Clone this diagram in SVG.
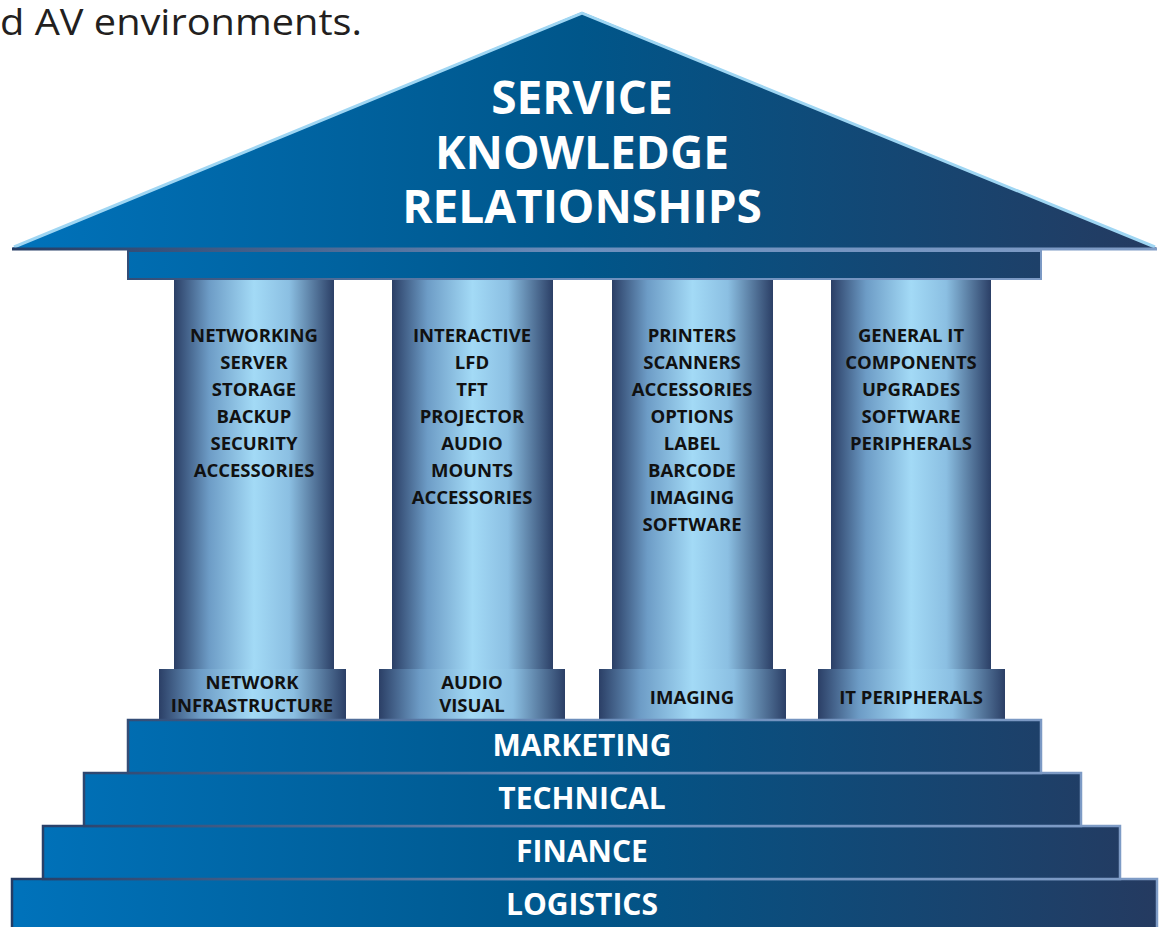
<svg xmlns="http://www.w3.org/2000/svg" width="1162" height="927" viewBox="0 0 1162 927">
<defs>
<linearGradient id="blue" gradientUnits="userSpaceOnUse" x1="0" y1="0" x2="1162" y2="0">
<stop offset="0" stop-color="#0073bc"/>
<stop offset="0.5" stop-color="#00568a"/>
<stop offset="1" stop-color="#253a60"/>
</linearGradient>
<linearGradient id="edge" gradientUnits="userSpaceOnUse" x1="0" y1="0" x2="1162" y2="0">
<stop offset="0" stop-color="#233a62"/>
<stop offset="0.5" stop-color="#6d8fbd"/>
<stop offset="1" stop-color="#7f9cc6"/>
</linearGradient>
<linearGradient id="col" x1="0" y1="0" x2="1" y2="0">
<stop offset="0" stop-color="#2b3f66"/>
<stop offset="0.22" stop-color="#6d9cc6"/>
<stop offset="0.5" stop-color="#a3daf6"/>
<stop offset="0.72" stop-color="#8bbfe2"/>
<stop offset="1" stop-color="#2b3f66"/>
</linearGradient>
</defs>
<style>
.step{fill:url(#blue);stroke:url(#edge);stroke-width:2.5}
.lbl{font-family:"Open Sans","Liberation Sans",sans-serif;font-weight:bold;fill:#ffffff;text-anchor:middle}
.ct{font-family:"Open Sans","Liberation Sans",sans-serif;font-weight:bold;font-size:18.5px;fill:#111111;text-anchor:middle}
.colr{fill:url(#col)}
</style>
<text x="0" y="35" font-family="Open Sans, Liberation Sans, sans-serif" font-size="36" fill="#231f20" textLength="362" lengthAdjust="spacingAndGlyphs">d AV environments.</text>

<g id="roof">
<polygon points="582,12 12,248 1157,248" fill="url(#blue)"/>
<polyline points="14,247 582,13 1155,247" fill="none" stroke="#9fd6f3" stroke-width="3" stroke-linejoin="miter"/>
<line x1="12" y1="249" x2="1157" y2="249" stroke="url(#edge)" stroke-width="3"/>
<text class="lbl" font-size="46" x="582" y="114">SERVICE</text>
<text class="lbl" font-size="46" x="582" y="169">KNOWLEDGE</text>
<text class="lbl" font-size="46" x="582" y="223">RELATIONSHIPS</text>
</g>
<g id="entablature">
<rect x="128" y="251" width="913" height="28" fill="url(#blue)" stroke="url(#edge)" stroke-width="2"/>
</g>

<g id="column1">
<rect class="colr" x="174" y="280" width="160" height="389"/>
<text class="ct" x="254" y="342">NETWORKING</text>
<text class="ct" x="254" y="369">SERVER</text>
<text class="ct" x="254" y="396">STORAGE</text>
<text class="ct" x="254" y="423">BACKUP</text>
<text class="ct" x="254" y="450">SECURITY</text>
<text class="ct" x="254" y="477">ACCESSORIES</text>
<rect class="colr" x="159" y="669" width="187" height="51"/>
<text class="ct" x="252" y="689">NETWORK</text>
<text class="ct" x="252" y="712">INFRASTRUCTURE</text>
</g>
<g id="column2">
<rect class="colr" x="392" y="280" width="161" height="389"/>
<text class="ct" x="472" y="342">INTERACTIVE</text>
<text class="ct" x="472" y="369">LFD</text>
<text class="ct" x="472" y="396">TFT</text>
<text class="ct" x="472" y="423">PROJECTOR</text>
<text class="ct" x="472" y="450">AUDIO</text>
<text class="ct" x="472" y="477">MOUNTS</text>
<text class="ct" x="472" y="504">ACCESSORIES</text>
<rect class="colr" x="379" y="669" width="186" height="51"/>
<text class="ct" x="472" y="689">AUDIO</text>
<text class="ct" x="472" y="712">VISUAL</text>
</g>
<g id="column3">
<rect class="colr" x="612" y="280" width="161" height="389"/>
<text class="ct" x="692" y="342">PRINTERS</text>
<text class="ct" x="692" y="369">SCANNERS</text>
<text class="ct" x="692" y="396">ACCESSORIES</text>
<text class="ct" x="692" y="423">OPTIONS</text>
<text class="ct" x="692" y="450">LABEL</text>
<text class="ct" x="692" y="477">BARCODE</text>
<text class="ct" x="692" y="504">IMAGING</text>
<text class="ct" x="692" y="531">SOFTWARE</text>
<rect class="colr" x="599" y="669" width="187" height="51"/>
<text class="ct" x="692" y="704">IMAGING</text>
</g>
<g id="column4">
<rect class="colr" x="831" y="280" width="160" height="389"/>
<text class="ct" x="911" y="342">GENERAL IT</text>
<text class="ct" x="911" y="369">COMPONENTS</text>
<text class="ct" x="911" y="396">UPGRADES</text>
<text class="ct" x="911" y="423">SOFTWARE</text>
<text class="ct" x="911" y="450">PERIPHERALS</text>
<rect class="colr" x="818" y="669" width="187" height="51"/>
<text class="ct" x="911" y="704">IT PERIPHERALS</text>
</g>

<g id="step-logistics">
<rect class="step" x="12" y="879" width="1145" height="52"/>
<text class="lbl" font-size="30" x="582" y="915">LOGISTICS</text>
</g>
<g id="step-finance">
<rect class="step" x="43" y="826" width="1077" height="53"/>
<text class="lbl" font-size="30" x="582" y="862">FINANCE</text>
</g>
<g id="step-technical">
<rect class="step" x="84" y="773" width="997" height="53"/>
<text class="lbl" font-size="30" x="582" y="809">TECHNICAL</text>
</g>
<g id="step-marketing">
<rect class="step" x="128" y="720" width="913" height="53"/>
<text class="lbl" font-size="30" x="582" y="756">MARKETING</text>
</g>
</svg>
